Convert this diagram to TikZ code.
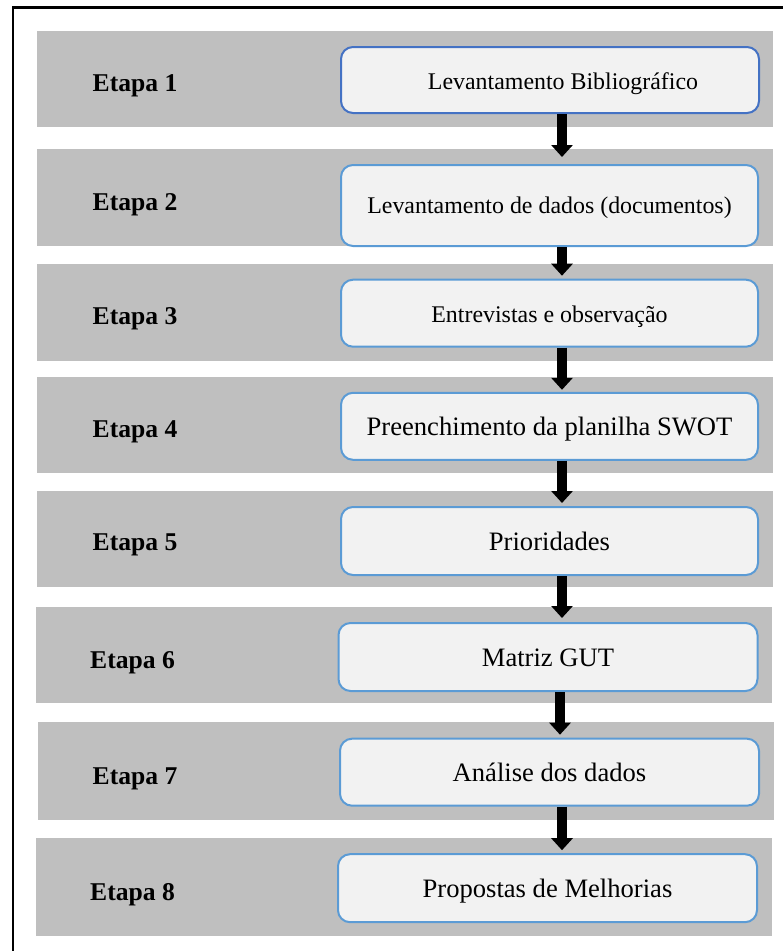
\documentclass[tikz,border=0pt]{standalone}
\usepackage{fontspec}
\setmainfont{Liberation Serif}
\usetikzlibrary{arrows.meta}
\definecolor{bandgray}{HTML}{BFBFBF}
\definecolor{boxfill}{HTML}{F2F2F2}
\definecolor{blueA}{HTML}{4472C4}
\definecolor{blueB}{HTML}{5B9BD5}
\begin{document}
\begin{tikzpicture}[x=1pt,y=-1pt,
  band/.style={fill=bandgray},
  boxnode/.style={draw=blueB, line width=2pt, fill=boxfill, rounded corners=12pt,
    minimum width=417pt, inner sep=0pt, text height=22pt, text depth=4pt},
  smalltext/.style={font=\fontsize{23.9}{28}\selectfont},
  bigtext/.style={font=\fontsize{26.6}{30}\selectfont},
  etapa/.style={anchor=base west, inner sep=0pt, font=\fontsize{25.6}{30}\selectfont\bfseries},
  flowarrow/.style={line width=10.5pt, shorten >=3pt, -{Triangle[length=12pt,width=21pt]}}]
\useasboundingbox (0,0) rectangle (783,951);
\fill[white] (0,0) rectangle (783,951);
% frame
\draw[line width=2.4pt, line join=miter] (12.8,951) -- (12.8,7.6) -- (783,7.6);
% bands
\fill[band] (37,31) rectangle (773,127);
\fill[band] (37,149) rectangle (773,246);
\fill[band] (37,264) rectangle (773,361);
\fill[band] (37,377) rectangle (773,473);
\fill[band] (37,491) rectangle (773,587);
\fill[band] (36,607) rectangle (772,703);
\fill[band] (38,722) rectangle (774,820);
\fill[band] (36,838) rectangle (772,936);
% labels
\node[etapa] (e1) at (92.5,91) {Etapa 1};
\node[etapa] (e2) at (92.5,210) {Etapa 2};
\node[etapa] (e3) at (92.5,324.5) {Etapa 3};
\node[etapa] (e4) at (92.5,437) {Etapa 4};
\node[etapa] (e5) at (92.5,550.5) {Etapa 5};
\node[etapa] (e6) at (90,668) {Etapa 6};
\node[etapa] (e7) at (92.5,784) {Etapa 7};
\node[etapa] (e8) at (90,900) {Etapa 8};
% boxes
\node[boxnode, smalltext, draw=blueA, minimum width=418pt, minimum height=66pt] (b1) at (550,80) {\hspace*{26pt}Levantamento Bibliográfico};
\node[boxnode, smalltext, minimum height=81pt, text height=21pt, text depth=6pt] (b2) at (549.5,205.5) {Levantamento de dados (documentos)};
\node[boxnode, smalltext, minimum height=67pt] (b3) at (549.5,313.2) {Entrevistas e observação};
\node[boxnode, bigtext, minimum height=67pt] (b4) at (549.5,426.3) {Preenchimento da planilha SWOT};
\node[boxnode, bigtext, minimum height=68pt] (b5) at (549.5,541) {Prioridades};
\node[boxnode, bigtext, minimum width=419pt, minimum height=68pt] (b6) at (548,657) {Matriz GUT};
\node[boxnode, bigtext, minimum width=419pt, minimum height=67pt] (b7) at (549.5,772.2) {Análise dos dados};
\node[boxnode, bigtext, minimum width=419pt, minimum height=68pt] (b8) at (547.5,888.2) {Propostas de Melhorias};
% arrow columns
\coordinate (colA) at (562,0);
\coordinate (colB) at (560,0);
% arrows
\draw[flowarrow, shorten >=7pt] (b1.south -| colA) -- (b2.north -| colA);
\draw[flowarrow] (b2.south -| colA) -- (b3.north -| colA);
\draw[flowarrow, shorten >=2pt] (b3.south -| colA) -- (b4.north -| colA);
\draw[flowarrow] (b4.south -| colA) -- (b5.north -| colA);
\draw[flowarrow, shorten >=4pt] (b5.south -| colA) -- (b6.north -| colA);
\draw[flowarrow] (b6.south -| colB) -- (b7.north -| colB);
\draw[flowarrow] (b7.south -| colA) -- (b8.north -| colA);
\end{tikzpicture}
\end{document}
